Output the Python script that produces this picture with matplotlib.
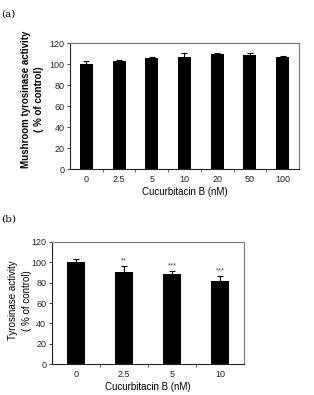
import numpy as np
import matplotlib
matplotlib.use('Agg')
import matplotlib.pyplot as plt

# panel (a): mushroom tyrosinase
conc_a = ['0', '2.5', '5', '10', '20', '50', '100']
act_a = [100, 103.2, 105.7, 106.4, 109.9, 108.9, 106.4]
err_a = [3.2, 0.9, 1.0, 3.8, 0.4, 1.3, 1.2]

# panel (b): cellular tyrosinase
conc_b = ['0', '2.5', '5', '10']
act_b = [100, 90.6, 88.7, 81.5]
err_b = [3.0, 5.6, 2.6, 4.9]
stars_b = ['', '**', '***', '***']

plt.rcParams['font.family'] = ['Liberation Sans', 'DejaVu Sans']
FS = 6.5


def panel(ax, labels, vals, errs, width):
    x = np.arange(len(labels))
    ax.bar(x, vals, width=width, color='black', zorder=2)
    ax.errorbar(x, vals, yerr=[np.zeros(len(errs)), errs], fmt='none',
                ecolor='black', elinewidth=0.8, capsize=2, capthick=0.8, zorder=3)
    ax.set_xlim(-0.5, len(labels) - 0.5)
    ax.set_ylim(0, 120)
    ax.set_yticks(range(0, 121, 20))
    ax.set_xticks(x)
    ax.set_xticklabels(labels)
    ax.set_xticks(x[:-1] + 0.5, minor=True)
    ax.tick_params(axis='x', which='major', length=0, pad=4, labelsize=FS, colors='#222222')
    ax.tick_params(axis='x', which='minor', length=2.5, width=0.6, direction='out', color='#555555')
    ax.tick_params(axis='y', length=2, width=0.6, pad=2, labelsize=FS, colors='#222222')
    for s in ['top', 'right']:
        ax.spines[s].set_color('#777777')
        ax.spines[s].set_linewidth(0.8)
    for s in ['bottom', 'left']:
        ax.spines[s].set_color('#222222')
        ax.spines[s].set_linewidth(0.8)
    ax.set_xlabel('Cucurbitacin B (nM)', fontsize=FS + 0.5, labelpad=2.5)
    return x


fig = plt.figure(figsize=(3.14, 3.95), dpi=100)

ax1 = fig.add_axes([0.223, 0.572, 0.729, 0.319])
panel(ax1, conc_a, act_a, err_a, 0.4)
fig.text(26 / 314, 0.749, 'Mushroom tyrosinase activity', rotation=90, ha='center',
         va='center', fontsize=FS + 0.5, fontweight='bold')
fig.text(39 / 314, 0.749, '( % of control)', rotation=90, ha='center',
         va='center', fontsize=FS + 0.5, fontweight='bold')
fig.text(0.005, 0.965, '(a)', family='DejaVu Serif', fontsize=7.5, va='center')

ax2 = fig.add_axes([0.165, 0.0777, 0.612, 0.310])
xb = panel(ax2, conc_b, act_b, err_b, 0.38)
for xi, v, e, s in zip(xb, act_b, err_b, stars_b):
    if s:
        ax2.text(xi, v + e + 1.5, s, ha='center', va='bottom', fontsize=5.5, color='#444444')
fig.text(13 / 314, 0.24, 'Tyrosinase activity', rotation=90, ha='center',
         va='center', fontsize=FS + 0.5)
fig.text(27 / 314, 0.24, '( % of control)', rotation=90, ha='center',
         va='center', fontsize=FS + 0.5)
fig.text(0.005, 0.446, '(b)', family='DejaVu Serif', fontsize=7.5, va='center')

fig.savefig('out.png', dpi=100)
